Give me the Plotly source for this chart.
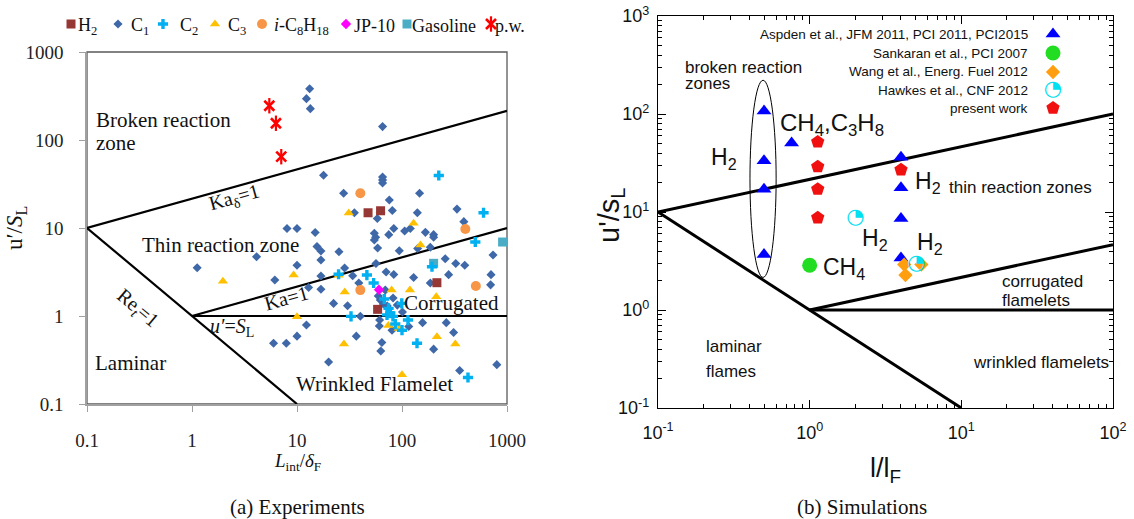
import math
import plotly.graph_objects as go

W, H = 1134, 519

# ---------------- (a) Experiments: u'/S_L against L_int/delta_F ----------------
h2_lint = [47.5, 62.5, 215, 58.6]
h2_u = [14.9, 15.7, 2.39, 1.19]

c1_lint = [13.2, 12.3, 13.4, 65.3, 17.9, 65.3, 65.3, 65.3, 27.8, 75.7,
           147, 35.2, 80.9, 58.2, 140, 334, 388, 8.03, 10, 14.9,
           54.5, 56.1, 54.5, 74.8, 83.5, 106, 120, 167, 200, 200,
           15.5, 16.9, 16.9, 4.12, 1.12, 10, 6.15, 16.9, 12.9, 16.9,
           58.6, 94.2, 141, 186, 25.1, 736, 258, 325, 396, 56.5,
           28.4, 70.6, 83.5, 33.9, 129, 278, 704, 38.8, 186, 698,
           69.3, 22.3, 30.3, 40.1, 62.1, 66.4, 72.4, 82.2, 90.2, 101,
           61.2, 80.3, 116, 157, 264, 310, 64.3, 62.8, 200, 20.0,
           354, 800, 12.3, 10, 5.98, 7.91, 36.7, 59.4, 60.8]
c1_u = [383, 295, 227, 142, 39.7, 38.0, 35.1, 32.5, 24.8, 20.8,
        24.8, 14.9, 15.8, 12.8, 14.9, 16.4, 11.8, 9.87, 9.87, 8.89,
        8.71, 7.84, 7.31, 8.40, 9.87, 9.24, 9.87, 8.93, 8.40, 7.84,
        6.16, 5.48, 4.33, 4.72, 3.54, 3.78, 2.57, 2.85, 2.11, 2.01,
        5.93, 5.52, 5.85, 6.04, 5.38, 4.93, 4.48, 3.95, 3.78, 3.95,
        3.51, 3.16, 2.96, 2.87, 2.74, 2.95, 2.95, 2.37, 2.37, 2.26,
        1.97, 1.39, 1.31, 0.995, 1.52, 1.37, 1.30, 1.60, 1.33, 1.11,
        0.90, 0.69, 0.76, 0.84, 0.84, 0.65, 0.50, 0.40, 0.42, 0.30,
        0.24, 0.28, 0.79, 0.59, 0.49, 0.49, 0.59, 1.69, 0.77]

c2_lint = [224, 598, 499, 193, 24.9, 46.3, 53.7, 67.8, 99.5, 32.7,
           72, 77.4, 82, 74.5, 114, 86.3, 100, 139, 425]
c2_u = [39.5, 14.9, 6.93, 3.63, 2.98, 2.92, 2.37, 1.56, 1.39, 0.99,
        1.03, 1.08, 0.99, 1.22, 0.90, 0.81, 0.69, 0.49, 0.20]

c3_lint = [31.1, 62.5, 129, 1.97, 9.29, 150, 25.0, 28.5, 79.6, 119,
           212, 10, 74.1, 92.9, 28.0, 215, 322, 100]
c3_u = [14.8, 15.7, 11.3, 2.48, 2.92, 6.41, 2.91, 1.87, 1.97, 1.97,
        1.66, 0.98, 0.78, 0.72, 0.48, 0.58, 0.48, 0.215]

ic8_lint = [40.1, 401, 505, 40.1]
ic8_u = [24.8, 9.75, 2.19, 1.97]

jp10_lint = [60.4]
jp10_u = [1.99]

gasoline_lint = [908, 200]
gasoline_u = [6.93, 3.97]

pw_lint = [5.45, 6.3, 7.08]
pw_u = [245, 155, 64.6]

# regime boundaries of the Borghi diagram (end points)
ret1_x, ret1_y = [0.1, 10], [10, 0.1]
kad1_x, kad1_y = [0.1, 1000], [10, 215]
ka1_x, ka1_y = [1, 1000], [1, 10]
us_x, us_y = [1, 1000], [1, 1]

a_ticks = [0.1, 1, 10, 100, 1000]
a_ticktext = ["0.1", "1", "10", "100", "1000"]

# ---------------- (b) Simulations: u'/s_L against l/l_F ----------------
aspden_l = [0.5, 0.5, 0.5, 0.5, 0.76, 4.0, 4.0, 4.0, 4.0]
aspden_u = [107, 33.3, 17.1, 3.68, 50.7, 36.1, 17.7, 8.6, 3.4]
sankaran_l = [1.0]
sankaran_u = [2.86]
wang_l = [4.2, 5.45, 4.28]
wang_u = [2.91, 2.91, 2.27]
hawkes_l = [2.0, 5.05]
hawkes_u = [8.74, 2.96]
present_l = [1.13, 1.13, 1.13, 1.13, 4.0]
present_u = [51.9, 29.0, 17.1, 8.74, 27.0]

b_kad1_x, b_kad1_y = [0.1, 100], [10, 100]
b_ret1_x, b_ret1_y = [0.1, 10], [10, 0.1]
b_ka1_x, b_ka1_y = [1, 100], [1, 4.64]
b_us_x, b_us_y = [1, 100], [1, 1]

b_xticks = [0.1, 1, 10, 100]
b_xticktext = ["10<sup>-1</sup>", "10<sup>0</sup>", "10<sup>1</sup>", "10<sup>2</sup>"]
b_yticks = [0.1, 1, 10, 100, 1000]
b_yticktext = ["10<sup>-1</sup>", "10<sup>0</sup>", "10<sup>1</sup>", "10<sup>2</sup>", "10<sup>3</sup>"]
b_minor = [k * 10.0 ** e for e in range(-1, 3) for k in range(2, 10)]

# ---------------- styles ----------------
SERIF = "Liberation Serif"
SANS = "Liberation Sans"

sty_h2 = dict(symbol="square", size=9, color="#953735")
sty_c1 = dict(symbol="diamond", size=7, color="#3F68A8")
sty_c2 = dict(symbol="cross", size=8.5, color="#00B0F0")
sty_c3 = dict(symbol="triangle-up", size=9, color="#FFC000")
sty_ic8 = dict(symbol="circle", size=10, color="#F79646")
sty_jp = dict(symbol="diamond", size=8, color="#FF00FF")
sty_gas = dict(symbol="square", size=9, color="#4BACC6")
# the p.w. star is an X crossed by a vertical bar
sty_pw_x = dict(symbol="x-thin-open", size=10, color="#FF0000",
                line=dict(width=2.6, color="#FF0000"))
sty_pw_v = dict(symbol="line-ns-open", size=11, color="#FF0000",
                line=dict(width=2.2, color="#FF0000"))

sty_asp = dict(symbol="triangle-up", size=13, color="#0000FF")
sty_sank = dict(symbol="circle", size=15, color="#22DD22")
sty_wang = dict(symbol="diamond", size=11, color="#FF9F0F")
sty_pres = dict(symbol="pentagon", size=14, color="#F01010")
HAWKES_GLYPH = "\u25d4"
hawkes_font = dict(family="DejaVu Sans", size=21, color="#00E0F0")

fig = go.Figure()


def pts(x, y, sty, xa="x", ya="y"):
    fig.add_trace(go.Scatter(x=x, y=y, mode="markers", marker=sty,
                             xaxis=xa, yaxis=ya, showlegend=False,
                             hoverinfo="skip", cliponaxis=False))


def line(x, y, xa, ya, width):
    fig.add_trace(go.Scatter(x=x, y=y, mode="lines",
                             line=dict(color="black", width=width),
                             xaxis=xa, yaxis=ya, showlegend=False,
                             hoverinfo="skip"))


# (a) boundaries
for lx, ly in [(ret1_x, ret1_y), (kad1_x, kad1_y), (ka1_x, ka1_y), (us_x, us_y)]:
    line(lx, ly, "x", "y", 2.2)

# (a) measurements
pts(c1_lint, c1_u, sty_c1)
pts(c3_lint, c3_u, sty_c3)
pts(ic8_lint, ic8_u, sty_ic8)
pts(h2_lint, h2_u, sty_h2)
pts(gasoline_lint, gasoline_u, sty_gas)
pts(c2_lint, c2_u, sty_c2)
pts(jp10_lint, jp10_u, sty_jp)
pts(pw_lint, pw_u, sty_pw_x)
pts(pw_lint, pw_u, sty_pw_v)

# (b) boundaries
for lx, ly in [(b_kad1_x, b_kad1_y), (b_ret1_x, b_ret1_y), (b_ka1_x, b_ka1_y), (b_us_x, b_us_y)]:
    line(lx, ly, "x2", "y2", 3)

# (b) simulations
pts(aspden_l, aspden_u, sty_asp, "x2", "y2")
pts(sankaran_l, sankaran_u, sty_sank, "x2", "y2")
pts(wang_l, wang_u, sty_wang, "x2", "y2")
fig.add_trace(go.Scatter(x=hawkes_l, y=hawkes_u, mode="text",
                         text=[HAWKES_GLYPH] * len(hawkes_l),
                         textposition="middle center", textfont=hawkes_font,
                         xaxis="x2", yaxis="y2", showlegend=False,
                         hoverinfo="skip", cliponaxis=False))
pts(present_l, present_u, sty_pres, "x2", "y2")

# ---------------- legend keys (on a full-figure helper axis, units = px) ----------------
leg_a_sym_x = [71, 118, 163, 215, 262, 346, 407, 491]
leg_a_lab_x = [76, 129, 178, 226, 272, 352, 410, 493]
leg_a_y = 24
leg_a_labels = ["H<sub>2</sub>", "C<sub>1</sub>", "C<sub>2</sub>", "C<sub>3</sub>",
                "<i>i</i>-C<sub>8</sub>H<sub>18</sub>", "JP-10", "Gasoline", "p.w."]
leg_a_styles = [[sty_h2], [sty_c1], [sty_c2], [sty_c3], [sty_ic8], [sty_jp], [sty_gas],
                [sty_pw_x, sty_pw_v]]

for sx, stys in zip(leg_a_sym_x, leg_a_styles):
    for sty in stys:
        pts([sx], [leg_a_y], sty, "x3", "y3")

leg_b_labels = ["Aspden et al., JFM 2011, PCI 2011, PCI2015",
                "Sankaran et al., PCI 2007",
                "Wang et al., Energ. Fuel 2012",
                "Hawkes et al., CNF 2012",
                "present work"]
leg_b_rows = [34, 53, 72, 90, 108]
leg_b_text_right = 1030
leg_b_sym_x = 1053

pts([leg_b_sym_x], [leg_b_rows[0]], sty_asp, "x3", "y3")
pts([leg_b_sym_x], [leg_b_rows[1]], sty_sank, "x3", "y3")
pts([leg_b_sym_x], [leg_b_rows[2]], sty_wang, "x3", "y3")
fig.add_trace(go.Scatter(x=[leg_b_sym_x], y=[leg_b_rows[3]], mode="text",
                         text=[HAWKES_GLYPH], textposition="middle center",
                         textfont=hawkes_font, xaxis="x3", yaxis="y3",
                         showlegend=False, hoverinfo="skip", cliponaxis=False))
pts([leg_b_sym_x], [leg_b_rows[4]], sty_pres, "x3", "y3")

# ---------------- annotations ----------------
ann = []


def txt(text, x, y, xref, yref, size, family, xanchor="center", angle=0, color="#111"):
    lg_x = math.log10(x) if xref in ("x", "x2") else x
    lg_y = math.log10(y) if yref in ("y", "y2") else y
    ann.append(dict(text=text, x=lg_x, y=lg_y, xref=xref, yref=yref,
                    xanchor=xanchor, yanchor="middle", showarrow=False,
                    textangle=angle, font=dict(family=family, size=size, color=color)))


def px_x(p):
    return p / W


def px_y(p):
    return 1 - p / H


# (a) regime labels
txt("Broken reaction", 0.117, 169, "x", "y", 21, SERIF, "left")
txt("zone", 0.117, 92.5, "x", "y", 21, SERIF, "left")
txt("Ka<sub>δ</sub>=1", 2.53, 21.4, "x", "y", 20, SERIF, angle=-15.6)
txt("Thin reaction zone", 1.88, 6.41, "x", "y", 21, SERIF)
txt("Ka=1", 7.91, 1.60, "x", "y", 20, SERIF, angle=-15.6)
txt("Re<sub><i>t</i></sub>=1", 0.301, 1.23, "x", "y", 20, SERIF, angle=40)
txt("<i>u′</i>=<i>S</i><sub>L</sub>", 2.42, 0.731, "x", "y", 20, SERIF)
txt("Corrugated", 295, 1.41, "x", "y", 21, SERIF)
txt("Laminar", 0.258, 0.292, "x", "y", 21, SERIF)
txt("Wrinkled Flamelet", 54.5, 0.169, "x", "y", 21, SERIF)

# (b) regime labels
txt("broken reaction", 0.146, 300, "x2", "y2", 17, SANS, "left")
txt("zones", 0.146, 206, "x2", "y2", 17, SANS, "left")
txt("CH<sub>4</sub>,C<sub>3</sub>H<sub>8</sub>", 0.619, 78, "x2", "y2", 24, SANS, "left")
txt("H<sub>2</sub>", 0.273, 35, "x2", "y2", 23, SANS)
txt("H<sub>2</sub>", 4.82, 19.8, "x2", "y2", 23, SANS, "left")
txt("thin reaction zones", 8.09, 17.6, "x2", "y2", 17, SANS, "left")
txt("H<sub>2</sub>", 2.70, 5.28, "x2", "y2", 23, SANS)
txt("H<sub>2</sub>", 6.24, 4.81, "x2", "y2", 23, SANS)
txt("CH<sub>4</sub>", 1.19, 2.67, "x2", "y2", 23, SANS, "left")
txt("corrugated", 18.1, 1.96, "x2", "y2", 17, SANS, "left")
txt("flamelets", 18.1, 1.25, "x2", "y2", 17, SANS, "left")
txt("laminar", 0.201, 0.423, "x2", "y2", 17, SANS, "left")
txt("flames", 0.201, 0.234, "x2", "y2", 17, SANS, "left")
txt("wrinkled flamelets", 11.6, 0.29, "x2", "y2", 17, SANS, "left")

# legend labels
for lx, lab in zip(leg_a_lab_x, leg_a_labels):
    txt(lab, px_x(lx), px_y(leg_a_y + 2), "paper", "paper", 18, SERIF, "left")
for row, lab in zip(leg_b_rows, leg_b_labels):
    txt(lab, px_x(leg_b_text_right), px_y(row), "paper", "paper", 13.5, SANS, "right")

# axis titles and captions
txt("u′/<i>S</i><sub>L</sub>", px_x(16), px_y(228), "paper", "paper", 23, SERIF, angle=-90)
txt("<i>L</i><sub>int</sub>/<i>δ</i><sub>F</sub>", px_x(297), px_y(462), "paper", "paper", 19, SERIF)
txt("u'/s<sub>L</sub>", px_x(611), px_y(215), "paper", "paper", 29, SANS, angle=-90)
txt("l/l<sub>F</sub>", px_x(885), px_y(470), "paper", "paper", 27, SANS)
txt("(a) Experiments", px_x(297), px_y(507), "paper", "paper", 21, SERIF)
txt("(b) Simulations", px_x(862), px_y(507), "paper", "paper", 21, SERIF)

# ---------------- axes ----------------
a_common = dict(type="log", range=[-1, 3], tickmode="array", tickvals=a_ticks,
                ticktext=a_ticktext, ticks="outside", ticklen=6, tickcolor="#A0A0A0",
                showline=True, linecolor="#A0A0A0", linewidth=1.5,
                showgrid=False, zeroline=False,
                tickfont=dict(family=SERIF, size=19, color="#222"))
b_common = dict(type="log", tickmode="array", ticks="inside", ticklen=8,
                tickcolor="black", showline=True, linecolor="black", linewidth=1.2,
                mirror="allticks", showgrid=False, zeroline=False,
                minor=dict(tickmode="array", tickvals=b_minor, ticks="inside",
                           ticklen=4, tickcolor="black"),
                tickfont=dict(family=SANS, size=18, color="#111"))

fig.update_layout(
    width=W, height=H, margin=dict(l=0, r=0, t=0, b=0, autoexpand=False),
    paper_bgcolor="white", plot_bgcolor="rgba(0,0,0,0)", showlegend=False,
    xaxis=dict(a_common, domain=[87 / W, 507 / W], anchor="y", ticklabelstandoff=12),
    yaxis=dict(a_common, domain=[1 - 404 / H, 1 - 52 / H], anchor="x", ticklabelstandoff=12),
    xaxis2=dict(b_common, domain=[658 / W, 1113 / W], range=[-1, 2], anchor="y2",
                tickvals=b_xticks, ticktext=b_xticktext, ticklabelstandoff=8),
    yaxis2=dict(b_common, domain=[1 - 408 / H, 1 - 16 / H], range=[-1, 3], anchor="x2",
                tickvals=b_yticks, ticktext=b_yticktext, ticklabelstandoff=4),
    xaxis3=dict(domain=[0, 1], range=[0, W], anchor="y3", visible=False, fixedrange=True),
    yaxis3=dict(domain=[0, 1], range=[H, 0], anchor="x3", visible=False, fixedrange=True),
    annotations=ann,
    shapes=[
        dict(type="rect", xref="x domain", yref="y domain", x0=0, x1=1, y0=0, y1=1,
             line=dict(color="#5A5A5A", width=1.3), layer="below"),
        dict(type="circle", xref="x2", yref="y2", x0=0.404, x1=0.601, y0=2.15, y1=221,
             line=dict(color="black", width=1)),
    ],
)

fig.write_html("out.html")
